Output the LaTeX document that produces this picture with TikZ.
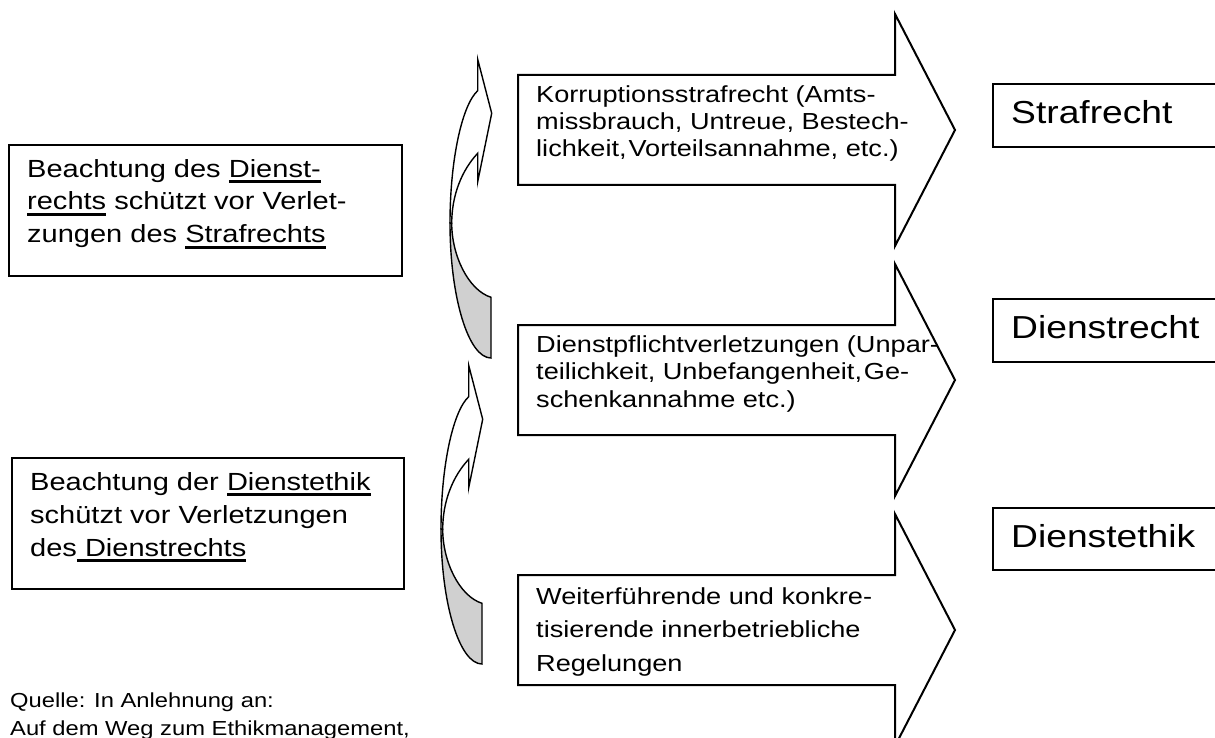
\documentclass[tikz,border=0pt]{standalone}
\usepackage{fontspec}
\setmainfont{Liberation Sans}[FakeStretch=1.17]
\definecolor{shade}{RGB}{208,208,208}
\newsavebox\ulbox
\newcommand\ulx[1]{\sbox\ulbox{#1}\rlap{\rule[-5.8pt]{\wd\ulbox}{2.7pt}}\usebox\ulbox}
\tikzset{
  boxline/.style={draw=black, line width=2.2pt, fill=white},
  arrowline/.style={draw=black, line width=2pt, fill=white, line join=miter},
  curveline/.style={draw=black, line width=1.4pt, line join=miter},
  lefttext/.style={anchor=base west, align=left, inner sep=0pt, font=\fontsize{24.8}{33}\selectfont},
  midtext/.style={anchor=base west, align=left, inner sep=0pt, font=\fontsize{23.2}{27.4}\selectfont},
  righttext/.style={anchor=base west, inner sep=0pt, font=\fontsize{31.8}{36}\selectfont},
  srctext/.style={anchor=base west, align=left, inner sep=0pt, font=\fontsize{20.3}{28}\selectfont}
}
\newcommand\blockarrow[1]{%
  \path[arrowline] (518,#1-55) -- (895,#1-55) -- (895,#1-116) -- (955,#1) -- (895,#1+116) -- (895,#1+55) -- (518,#1+55) -- cycle;}
\newcommand\curvedarrow{%
  \path[curveline, fill=shade] (450,223) .. controls (450,297.5) and (468.4,358) .. (491,358)
     -- (491,297.3) .. controls (468,290) and (451.7,255) .. (451.7,223.3) -- cycle;
  \path[curveline, fill=white] (477.7,90.7) .. controls (462,105) and (450,160) .. (450,223)
     -- (451.7,223.3) .. controls (451.7,195) and (462,170) .. (477.7,153.3)
     -- (477.7,181.7) -- (491.7,113.3) -- (477.7,59.3) -- cycle;}
\begin{document}
\begin{tikzpicture}[x=1pt,y=-1pt]
\useasboundingbox (0,0) rectangle (1215,738);
\clip (0,0) rectangle (1215,738);

% left boxes
\path[boxline] (9,145) rectangle (402,276);
\node[lefttext] (t1) at (27,243) {Beachtung des \ulx{Dienst-}\\\ulx{rechts} schützt vor Verlet-\\zungen des \ulx{Strafrechts}};
\path[boxline] (12,458) rectangle (404,589);
\node[lefttext] (t2) at (30,556) {Beachtung der \ulx{Dienstethik}\\schützt vor Verletzungen\\des\ulx{\ Dienstrechts}};

% source
\node[srctext] (src) at (10,735) {Quelle: In Anlehnung an:\\Auf dem Weg zum Ethikmanagement,};

% curved arrows
\curvedarrow
\begin{scope}[shift={(-9,306)}]
\curvedarrow
\end{scope}

% block arrows
\blockarrow{130}
\node[midtext] (m1) at (536,157) {Korruptionsstrafrecht (Amts-\\missbrauch, Untreue, Bestech-\\lichkeit,\hspace{0.08em}Vorteilsannahme, etc.)};
\blockarrow{380}
\node[midtext] (m2) at (536,407) {Dienstpflichtverletzungen (Unpar-\\teilichkeit, Unbefangenheit,\hspace{0.08em}Ge-\\schenkannahme etc.)};
\blockarrow{630}
\node[midtext, font=\fontsize{23.2}{33.5}\selectfont] (m3) at (536,671) {Weiterführende und konkre-\\tisierende innerbetriebliche\\Regelungen};

% right boxes
\path[boxline, line width=2pt] (993,84) rectangle (1240,147);
\node[righttext] (r1) at (1011,124) {Strafrecht};
\path[boxline, line width=2pt] (993,299) rectangle (1240,362);
\node[righttext] (r2) at (1011,338) {Dienstrecht};
\path[boxline, line width=2pt] (993,508) rectangle (1240,570);
\node[righttext] (r3) at (1011,547) {Dienstethik};
\end{tikzpicture}
\end{document}
